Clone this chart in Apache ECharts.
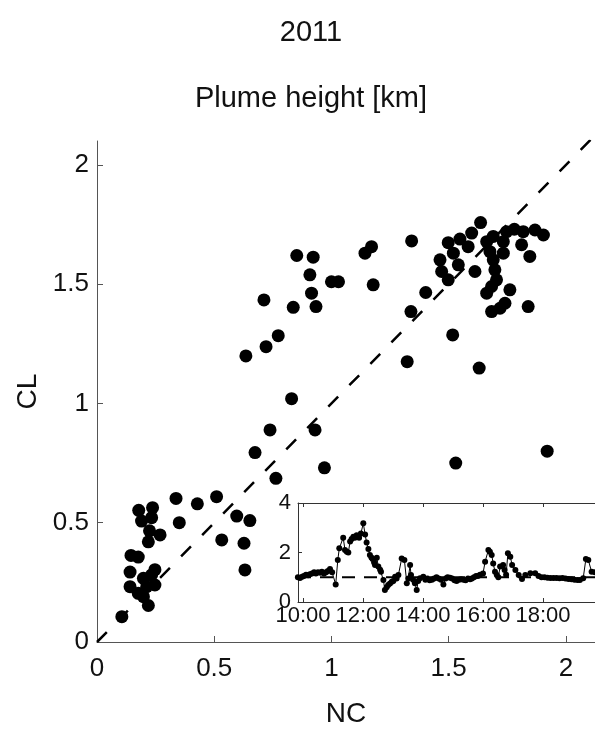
<!DOCTYPE html>
<html>
<head>
<meta charset="utf-8">
<script src="https://cdn.jsdelivr.net/npm/echarts@6/dist/echarts.min.js"></script>
<style>
  html, body { margin: 0; padding: 0; background: #fff; }
  #main { width: 595px; height: 729px; }
</style>
</head>
<body>
<div id="main"></div>
<script>
// 散点：NC 对 CL（羽流高度，km）
const ncValues = [
  0.852, 0.922, 0.908, 1.0, 1.03, 0.915, 0.712, 0.837, 0.934, 0.773, 0.721, 0.635, 0.83,
  1.143, 1.171, 1.178, 1.342, 1.402, 1.339, 1.323, 1.517, 1.63, 1.53, 1.92,
  1.636, 1.598, 1.548, 1.498, 1.583, 1.52, 1.463, 1.541, 1.47, 1.498, 1.612,
  1.69, 1.747, 1.78, 1.818, 1.868, 1.904, 1.733, 1.662, 1.811, 1.846, 1.676, 1.733, 1.69,
  1.697, 1.704, 1.683, 1.662, 1.761, 1.74, 1.683, 1.719, 1.839,
  0.738, 0.674, 0.763, 0.93, 0.97,
  0.337, 0.428, 0.51, 0.351, 0.596, 0.652, 0.532, 0.627, 0.631,
  0.178, 0.237, 0.19, 0.233, 0.224, 0.269, 0.219, 0.145, 0.176, 0.141, 0.247, 0.233,
  0.198, 0.141, 0.212, 0.247, 0.176, 0.198, 0.219, 0.106
];
const clValues = [
  1.62, 1.613, 1.539, 1.51, 1.51, 1.462, 1.434, 1.403, 1.406, 1.284, 1.238, 1.199, 1.02,
  1.63, 1.657, 1.497, 1.681, 1.465, 1.385, 1.175, 1.287, 1.148, 0.75, 0.8,
  1.758, 1.714, 1.689, 1.674, 1.657, 1.63, 1.602, 1.581, 1.553, 1.518, 1.553,
  1.7, 1.72, 1.73, 1.72, 1.727, 1.706, 1.678, 1.678, 1.665, 1.616, 1.636, 1.63, 1.602,
  1.56, 1.518, 1.49, 1.462, 1.476, 1.42, 1.385, 1.399, 1.406,
  0.889, 0.794, 0.686, 0.889, 0.73,
  0.602, 0.579, 0.609, 0.5, 0.528, 0.509, 0.428, 0.414, 0.302,
  0.552, 0.563, 0.507, 0.521, 0.466, 0.449, 0.42, 0.363, 0.356, 0.293, 0.303, 0.281,
  0.267, 0.232, 0.232, 0.239, 0.204, 0.19, 0.153, 0.106
];
const mainTicks = [0, 0.5, 1, 1.5, 2];

// 小图：时间序列（小时）
const insetTime = [
  9.83, 9.9, 9.97, 10.03, 10.1, 10.17, 10.23, 10.3, 10.37, 10.43, 10.5, 10.57, 10.63, 10.7,
  10.77, 10.83, 10.9, 10.97, 11.09, 11.16, 11.21, 11.34, 11.4, 11.46, 11.51, 11.57, 11.62,
  11.68, 11.73, 11.79, 11.87, 11.93, 12.01, 12.07, 12.12, 12.18, 12.23, 12.28, 12.32, 12.37,
  12.4, 12.46, 12.51, 12.57, 12.6, 12.68, 12.73, 12.79, 12.84, 12.9, 12.96, 13.01, 13.07,
  13.12, 13.18, 13.29, 13.38, 13.46, 13.51, 13.57, 13.6, 13.67, 13.73, 13.79, 13.84, 13.9,
  14.01, 14.08, 14.15, 14.22, 14.3, 14.37, 14.45, 14.52, 14.6, 14.68, 14.75, 14.82, 14.9,
  14.97, 15.05, 15.12, 15.2, 15.27, 15.35, 15.42, 15.5, 15.57, 15.63, 15.7, 15.77, 15.83,
  15.9, 16.0, 16.07, 16.18, 16.23, 16.29, 16.34, 16.4, 16.46, 16.51, 16.57, 16.67, 16.72,
  16.77, 16.83, 16.91, 16.97, 17.08, 17.19, 17.3, 17.41, 17.58, 17.74, 17.85, 17.95, 18.05,
  18.15, 18.25, 18.35, 18.45, 18.55, 18.65, 18.75, 18.85, 18.95, 19.05, 19.15, 19.23, 19.34,
  19.43, 19.51, 19.62, 19.73
];
const insetValue = [
  1.0, 0.97, 1.02, 1.05, 1.1, 1.08, 1.12, 1.15, 1.2, 1.15, 1.2, 1.18, 1.22, 1.15,
  1.2, 1.25, 1.33, 1.2, 0.71, 1.7, 2.17, 2.6, 2.1, 2.03, 2.0, 2.44, 2.55,
  2.64, 2.6, 2.7, 2.6, 2.77, 3.18, 2.73, 2.4, 2.14, 1.9, 1.8, 1.74, 1.6,
  1.5, 1.79, 1.43, 1.3, 1.22, 0.89, 0.48, 0.6, 0.69, 0.75, 0.82, 0.85, 1.02,
  0.95, 1.09, 1.76, 1.7, 0.76, 0.95, 1.5, 1.09, 0.9, 0.76, 0.48, 0.85, 0.96,
  1.02, 0.9, 0.95, 0.88, 0.9, 0.95, 1.0, 0.95, 0.9, 0.71, 0.95, 1.0, 0.98,
  0.95, 0.88, 0.85, 0.9, 0.92, 0.9, 0.88, 0.95, 0.92, 0.95, 1.0, 1.05, 1.05,
  1.1, 1.15, 1.63, 2.1, 2.03, 1.9, 1.56, 1.22, 1.09, 1.0, 1.43, 1.5, 1.29,
  1.1, 1.97, 1.83, 1.5, 1.29, 1.09, 0.93, 1.09, 1.16, 1.16, 1.05, 1.0, 1.0,
  0.98, 0.97, 0.97, 0.97, 0.96, 0.97, 0.95, 0.93, 0.92, 0.9, 0.89, 0.89, 0.96,
  1.74, 1.7, 1.22, 1.2
];
const insetTicks = [10, 12, 14, 16, 18];
const insetYTicks = [0, 2, 4];

const chart = echarts.init(document.getElementById('main'));
const font = 'Liberation Sans, Arial, Helvetica, sans-serif';
const axisColor = '#555';
const boxColor = '#333';

const scatterData = ncValues.map((v, i) => [v, clValues[i]]);
const insetData = insetTime.map((t, i) => [t, insetValue[i]]);

const option = {
  backgroundColor: '#fff',
  animation: false,
  title: [
    { text: '2011', left: 306, top: 13, textAlign: 'center',
      textStyle: { fontFamily: font, fontSize: 29, fontWeight: 'normal', color: '#111' } },
    { text: 'Plume height [km]', left: 306, top: 79, textAlign: 'center',
      textStyle: { fontFamily: font, fontSize: 29, fontWeight: 'normal', color: '#111' } }
  ],
  grid: [
    { left: 97, top: 141, right: 0, height: 501, outerBoundsMode: 'none', containLabel: false },
    { left: 298, top: 503, right: 0, height: 99, outerBoundsMode: 'none', containLabel: false }
  ],
  xAxis: [
    { gridIndex: 0, type: 'value', min: 0, max: 2.124,
      name: 'NC', nameLocation: 'middle', nameGap: 58,
      nameTextStyle: { fontFamily: font, fontSize: 28, color: '#111' },
      axisLine: { lineStyle: { color: axisColor, width: 1 } },
      axisTick: { inside: true, length: 6, customValues: mainTicks, lineStyle: { color: axisColor } },
      axisLabel: { customValues: mainTicks, margin: 14, fontFamily: font, fontSize: 26, color: '#111' },
      splitLine: { show: false } },
    { gridIndex: 1, type: 'value', min: 9.8333, max: 19.7333,
      axisLine: { lineStyle: { color: boxColor, width: 1 } },
      axisTick: { inside: true, length: 4, customValues: insetTicks, lineStyle: { color: boxColor } },
      axisLabel: { customValues: insetTicks, margin: 3, fontFamily: font, fontSize: 22, color: '#111',
        hideOverlap: false, formatter: v => v + ':00' },
      splitLine: { show: false } },
    { gridIndex: 1, type: 'value', position: 'top', min: 9.8333, max: 19.7333,
      axisLine: { lineStyle: { color: boxColor, width: 1 } },
      axisTick: { inside: true, length: 4, customValues: insetTicks, lineStyle: { color: boxColor } },
      axisLabel: { show: false },
      splitLine: { show: false } }
  ],
  yAxis: [
    { gridIndex: 0, type: 'value', min: 0, max: 2.1,
      name: 'CL', nameLocation: 'middle', nameGap: 45, nameRotate: 90,
      nameTextStyle: { fontFamily: font, fontSize: 28, color: '#111' },
      axisLine: { show: true, lineStyle: { color: axisColor, width: 1 } },
      axisTick: { show: true, inside: true, length: 6, customValues: mainTicks, lineStyle: { color: axisColor } },
      axisLabel: { customValues: mainTicks, margin: 8, fontFamily: font, fontSize: 26, color: '#111' },
      splitLine: { show: false } },
    { gridIndex: 1, type: 'value', min: 0, max: 4,
      axisLine: { show: true, lineStyle: { color: boxColor, width: 1 } },
      axisTick: { show: true, inside: true, length: 4, customValues: insetYTicks, lineStyle: { color: boxColor } },
      axisLabel: { customValues: insetYTicks, margin: 7, fontFamily: font, fontSize: 22, color: '#111' },
      splitLine: { show: false } }
  ],
  series: [
    { type: 'line', xAxisIndex: 0, yAxisIndex: 0, data: [[0, 0], [2.2, 2.2]],
      symbol: 'none', silent: true, z: 1,
      lineStyle: { color: '#000', width: 2.5, type: [14, 16] } },
    { type: 'scatter', xAxisIndex: 0, yAxisIndex: 0, data: scatterData,
      symbolSize: 13, itemStyle: { color: '#000', opacity: 1 }, z: 2 },
    { type: 'line', xAxisIndex: 1, yAxisIndex: 1, data: [[9.8333, 1], [19.7333, 1]],
      symbol: 'none', silent: true, z: 6,
      lineStyle: { color: '#000', width: 2, type: [13, 9] } },
    { type: 'line', xAxisIndex: 1, yAxisIndex: 1, data: insetData,
      symbol: 'circle', symbolSize: 6, showAllSymbol: true, z: 7,
      itemStyle: { color: '#000', opacity: 1 },
      lineStyle: { color: '#000', width: 1 } }
  ]
};
chart.setOption(option);
</script>
</body>
</html>
